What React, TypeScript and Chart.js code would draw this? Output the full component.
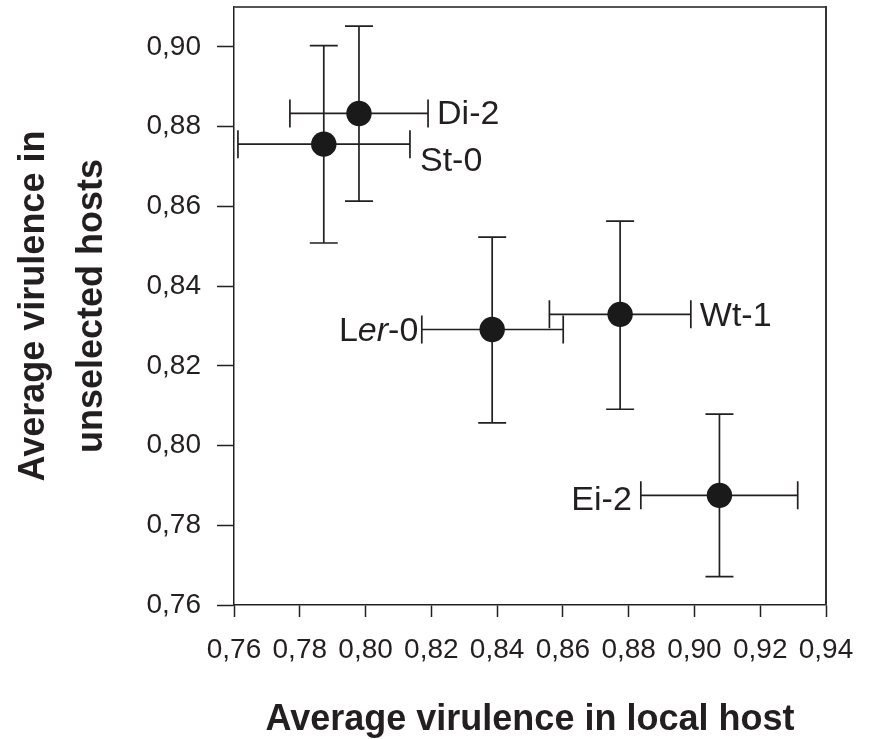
import { useEffect, useRef } from 'react';
import { Chart, registerables } from 'chart.js';

Chart.register(...registerables);

// Strains and their mean virulence with error-bar limits
const strains = ['Di-2', 'St-0', 'Ler-0', 'Wt-1', 'Ei-2'];
const localMean = [0.798, 0.7873, 0.8385, 0.8774, 0.9076];
const localLower = [0.777, 0.7612, 0.8171, 0.8559, 0.8837];
const localUpper = [0.819, 0.8135, 0.8601, 0.8989, 0.9314];
const unselectedMean = [0.8833, 0.8756, 0.8291, 0.8329, 0.7875];
const unselectedLower = [0.8613, 0.8508, 0.8057, 0.8091, 0.7671];
const unselectedUpper = [0.9052, 0.9003, 0.8523, 0.8563, 0.8079];

const xTicks = [0.76, 0.78, 0.8, 0.82, 0.84, 0.86, 0.88, 0.9, 0.92, 0.94];
const yTicks = [0.76, 0.78, 0.8, 0.82, 0.84, 0.86, 0.88, 0.9];

const xTitle = 'Average virulence in local host';
const yTitle = ['Average virulence in', 'unselected hosts'];

const INK = '#231f20';
const FONT = "'Liberation Sans', Arial, Helvetica, sans-serif";

// Label placement: which side of the horizontal bar, pixel nudges
const labelPlacement: Record<string, { side: 'left' | 'right'; dx: number; dy: number }> = {
  'Di-2': { side: 'right', dx: 9, dy: -2 },
  'St-0': { side: 'right', dx: 10, dy: 15 },
  'Ler-0': { side: 'left', dx: -3.5, dy: -1 },
  'Wt-1': { side: 'right', dx: 9, dy: -1 },
  'Ei-2': { side: 'left', dx: -9, dy: 2.7 },
};
// Allele part written in italics
const italicSpans: Record<string, [number, number]> = { 'Ler-0': [1, 3] };

const fmt = (v: number) => Number(v).toFixed(2).replace('.', ',');

const errorBarPlugin = {
  id: 'errorBars',
  beforeDatasetsDraw(chart: any) {
    const { ctx, scales } = chart;
    const x = scales.x;
    const y = scales.y;
    const cap = 14;
    ctx.save();
    ctx.strokeStyle = INK;
    ctx.lineWidth = 1.7;
    ctx.lineCap = 'butt';
    strains.forEach((_, i) => {
      const px = x.getPixelForValue(localMean[i]);
      const py = y.getPixelForValue(unselectedMean[i]);
      const xl = x.getPixelForValue(localLower[i]);
      const xh = x.getPixelForValue(localUpper[i]);
      const yl = y.getPixelForValue(unselectedLower[i]);
      const yh = y.getPixelForValue(unselectedUpper[i]);
      ctx.beginPath();
      ctx.moveTo(xl, py);
      ctx.lineTo(xh, py);
      ctx.moveTo(xl, py - cap);
      ctx.lineTo(xl, py + cap);
      ctx.moveTo(xh, py - cap);
      ctx.lineTo(xh, py + cap);
      ctx.moveTo(px, yl);
      ctx.lineTo(px, yh);
      ctx.moveTo(px - cap, yl);
      ctx.lineTo(px + cap, yl);
      ctx.moveTo(px - cap, yh);
      ctx.lineTo(px + cap, yh);
      ctx.stroke();
    });
    ctx.restore();
  },
  afterDatasetsDraw(chart: any) {
    const { ctx, scales } = chart;
    const x = scales.x;
    const y = scales.y;
    const size = 34;
    ctx.save();
    ctx.fillStyle = INK;
    ctx.textBaseline = 'alphabetic';
    ctx.textAlign = 'left';
    strains.forEach((name, i) => {
      const place = labelPlacement[name];
      const py = y.getPixelForValue(unselectedMean[i]);
      const anchor =
        place.side === 'right'
          ? x.getPixelForValue(localUpper[i])
          : x.getPixelForValue(localLower[i]);
      const span = italicSpans[name];
      const parts: Array<[string, boolean]> = span
        ? [
            [name.slice(0, span[0]), false],
            [name.slice(span[0], span[1]), true],
            [name.slice(span[1]), false],
          ]
        : [[name, false]];
      const widths = parts.map(([t, it]) => {
        ctx.font = `${it ? 'italic ' : ''}${size}px ${FONT}`;
        return ctx.measureText(t).width;
      });
      const total = widths.reduce((a, b) => a + b, 0);
      let cx = place.side === 'right' ? anchor + place.dx : anchor + place.dx - total;
      const baseY = py + place.dy + size * 0.716 / 2;
      parts.forEach(([t, it], k) => {
        ctx.font = `${it ? 'italic ' : ''}${size}px ${FONT}`;
        ctx.fillText(t, cx, baseY);
        cx += widths[k];
      });
    });
    ctx.restore();
  },
  afterDraw(chart: any) {
    const { ctx, chartArea } = chart;
    const { left, right, top, bottom } = chartArea;
    ctx.save();
    ctx.lineWidth = 2;
    ctx.strokeStyle = '#555555';
    ctx.beginPath();
    ctx.moveTo(left, top);
    ctx.lineTo(right, top);
    ctx.stroke();
    ctx.strokeStyle = '#333333';
    ctx.beginPath();
    ctx.moveTo(right, top - 1);
    ctx.lineTo(right, bottom);
    ctx.stroke();
    ctx.restore();
  },
};

export default function App() {
  const canvasRef = useRef<HTMLCanvasElement>(null);

  useEffect(() => {
    const canvas = canvasRef.current;
    if (!canvas) return;
    Chart.defaults.font.family = FONT;
    Chart.defaults.color = INK;

    const chart = new Chart(canvas, {
      type: 'scatter',
      data: {
        datasets: [
          {
            label: 'Strains',
            data: strains.map((_, i) => ({ x: localMean[i], y: unselectedMean[i] })),
            backgroundColor: '#1a1a1a',
            borderWidth: 0,
            pointRadius: 12.7,
            pointHoverRadius: 12.7,
            clip: false as any,
          },
        ],
      },
      options: {
        responsive: false,
        animation: false,
        devicePixelRatio: 1,
        layout: { autoPadding: false, padding: { top: 7, right: 43, left: 0, bottom: 0 } },
        plugins: {
          legend: { display: false },
          tooltip: { enabled: false },
        },
        scales: {
          x: {
            type: 'linear',
            position: 'bottom',
            min: 0.76,
            max: 0.94,
            afterBuildTicks: (scale: any) => {
              scale.ticks = xTicks.map((v) => ({ value: v }));
            },
            afterFit: (scale: any) => {
              scale.height = 134;
              scale.paddingLeft = 0;
              scale.paddingRight = 0;
            },
            grid: {
              display: true,
              drawOnChartArea: false,
              drawTicks: true,
              tickLength: 12,
              tickWidth: 1.5,
              tickColor: INK,
            },
            border: { display: true, color: INK, width: 1.5 },
            ticks: {
              maxRotation: 0,
              autoSkip: false,
              padding: 16,
              color: INK,
              font: { size: 28 },
              callback: (v: any) => fmt(v),
            },
            title: {
              display: true,
              text: xTitle,
              color: INK,
              font: { size: 36, weight: 'bold', lineHeight: 1 },
              padding: { top: 0, bottom: 0.5 },
            },
          },
          y: {
            type: 'linear',
            position: 'left',
            min: 0.76,
            max: 0.91,
            afterBuildTicks: (scale: any) => {
              scale.ticks = yTicks.map((v) => ({ value: v }));
            },
            afterFit: (scale: any) => {
              scale.width = 234;
              scale.paddingTop = 0;
              scale.paddingBottom = 0;
            },
            grid: {
              display: true,
              drawOnChartArea: false,
              drawTicks: true,
              tickLength: 17,
              tickWidth: 1.5,
              tickColor: INK,
            },
            border: { display: true, color: INK, width: 1.5 },
            ticks: {
              autoSkip: false,
              padding: 16,
              color: INK,
              font: { size: 28 },
              callback: (v: any) => fmt(v),
            },
            title: {
              display: true,
              text: yTitle,
              color: INK,
              font: { size: 36, weight: 'bold', lineHeight: 1.62 },
              padding: { top: 4.6, bottom: 0 },
            },
          },
        },
      },
      plugins: [errorBarPlugin],
    });

    return () => chart.destroy();
  }, []);

  return (
    <canvas
      ref={canvasRef}
      width={869}
      height={739}
      style={{ position: 'fixed', left: 0, top: 0, width: 869, height: 739, background: '#ffffff' }}
    />
  );
}
